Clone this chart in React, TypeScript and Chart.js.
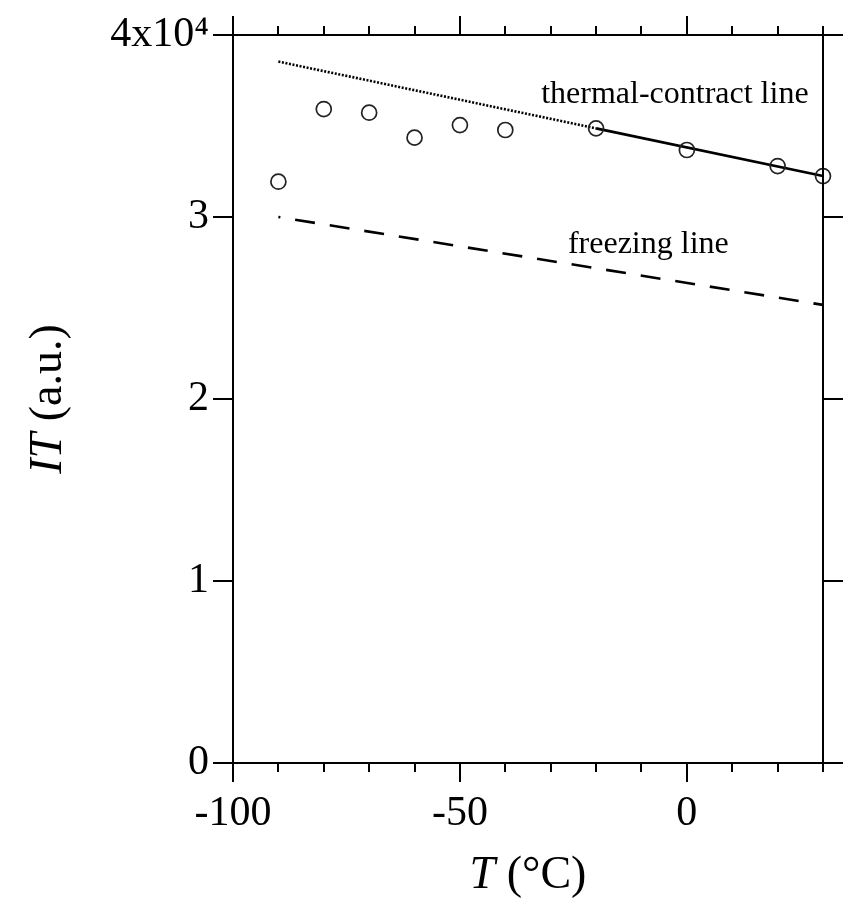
import React, { useEffect, useRef } from 'react';
import { Chart, registerables } from 'chart.js';

Chart.register(...registerables);

// ---- data ----
const temperatures = [-90, -80, -70, -60, -50, -40, -20, 0, 20, 30];
const itValues = [31940, 35930, 35730, 34360, 35050, 34780, 34870, 33680, 32800, 32250];

const thermalT = [-20, 30];
const thermalIT = [34870, 32250];

const extrapT = [-90, -20];
const extrapIT = [38540, 34870];

const freezeT = [-90, 30];
const freezeIT = [30000, 25170];

const xMajorTicks = [-100, -50, 0];
const yTickLabels = ['0', '1', '2', '3', '4x10\u2074'];

const SERIF = "'Liberation Serif', 'Times New Roman', serif";

const toPoints = (xs: number[], ys: number[]) => xs.map((x, i) => ({ x, y: ys[i] }));

const framePlugin = {
  id: 'frameTicks',
  afterDraw(chart: any) {
    const { ctx, chartArea, scales } = chart;
    const { left, right, top, bottom } = chartArea;
    const xs = scales.x;
    const ys = scales.y;
    ctx.save();
    ctx.strokeStyle = '#000';
    ctx.lineWidth = 2;
    ctx.lineCap = 'butt';
    ctx.beginPath();
    ctx.moveTo(left, top);
    ctx.lineTo(right, top);
    ctx.lineTo(right, bottom);
    ctx.stroke();

    ctx.beginPath();
    xs.ticks.forEach((t: any) => {
      const px = Math.round(xs.getPixelForValue(t.value));
      const len = xMajorTicks.includes(t.value) ? 19 : 9;
      ctx.moveTo(px, bottom);
      ctx.lineTo(px, bottom + len);
      ctx.moveTo(px, top);
      ctx.lineTo(px, top - len);
    });
    ys.ticks.forEach((t: any) => {
      const py = Math.round(ys.getPixelForValue(t.value));
      ctx.moveTo(left, py);
      ctx.lineTo(left - 20, py);
      ctx.moveTo(right, py);
      ctx.lineTo(right + 20, py);
    });
    ctx.stroke();

    // annotations
    ctx.fillStyle = '#000';
    ctx.font = `32px ${SERIF}`;
    ctx.textAlign = 'left';
    ctx.textBaseline = 'alphabetic';
    ctx.fillText('thermal-contract line', xs.getPixelForValue(-32.1), ys.getPixelForValue(36260));
    ctx.fillText('freezing line', xs.getPixelForValue(-26.2), ys.getPixelForValue(28020));

    // x title: T (°C)
    const cx = (left + right) / 2;
    const italic = `italic 46px ${SERIF}`;
    const upright = `46px ${SERIF}`;
    ctx.font = italic;
    const wT = ctx.measureText('T').width;
    ctx.font = upright;
    const wRest = ctx.measureText(' (\u00B0C)').width;
    const startX = cx - (wT + wRest) / 2;
    ctx.font = italic;
    ctx.fillText('T', startX, 888);
    ctx.font = upright;
    ctx.fillText(' (\u00B0C)', startX + wT, 888);

    // y title: IT (a.u.)
    const cy = (top + bottom) / 2;
    ctx.translate(61, cy);
    ctx.rotate(-Math.PI / 2);
    ctx.font = italic;
    const wIT = ctx.measureText('IT').width;
    ctx.font = upright;
    const wAU = ctx.measureText(' (a.u.)').width;
    const sx = -(wIT + wAU) / 2;
    ctx.font = italic;
    ctx.fillText('IT', sx, 0);
    ctx.font = upright;
    ctx.fillText(' (a.u.)', sx + wIT, 0);
    ctx.restore();
  },
};

export default function App() {
  const canvasRef = useRef<HTMLCanvasElement | null>(null);

  useEffect(() => {
    const canvas = canvasRef.current;
    if (!canvas) return;
    const chart = new Chart(canvas, {
      type: 'scatter',
      data: {
        datasets: [
          {
            label: 'data',
            data: toPoints(temperatures, itValues),
            showLine: false,
            pointStyle: 'circle',
            pointRadius: 7.5,
            pointBorderWidth: 1.7,
            pointBorderColor: '#222',
            pointBackgroundColor: 'rgba(0,0,0,0)',
            clip: false,
          } as any,
          {
            label: 'thermal-contract',
            data: toPoints(thermalT, thermalIT),
            showLine: true,
            borderColor: '#000',
            borderWidth: 2.6,
            pointRadius: 0,
            clip: false,
          } as any,
          {
            label: 'thermal-extrapolated',
            data: toPoints(extrapT, extrapIT),
            showLine: true,
            borderColor: '#000',
            borderWidth: 2.6,
            borderDash: [2, 1.6],
            pointRadius: 0,
            clip: false,
          } as any,
          {
            label: 'freezing',
            data: toPoints(freezeT, freezeIT),
            showLine: true,
            borderColor: '#000',
            borderWidth: 2.6,
            borderDash: [20, 15],
            borderDashOffset: 18,
            pointRadius: 0,
            clip: false,
          } as any,
        ],
      },
      options: {
        animation: false,
        responsive: false,
        devicePixelRatio: 1,
        layout: { padding: { left: 0, right: 26, top: 35, bottom: 0 } },
        plugins: { legend: { display: false }, tooltip: { enabled: false } },
        events: [],
        scales: {
          x: {
            type: 'linear',
            position: 'bottom',
            min: -100,
            max: 30,
            grid: { display: false, drawTicks: false },
            border: { display: true, color: '#000', width: 2 },
            ticks: {
              stepSize: 10,
              autoSkip: false,
              maxRotation: 0,
              padding: 26,
              color: '#000',
              font: { family: SERIF, size: 42 },
              callback: (v: any) => (xMajorTicks.includes(Number(v)) ? String(v) : ''),
            },
            afterFit: (scale: any) => {
              scale.height = 146;
              scale.paddingLeft = 0;
              scale.paddingRight = 0;
            },
          },
          y: {
            type: 'linear',
            position: 'left',
            min: 0,
            max: 40000,
            grid: { display: false, drawTicks: false },
            border: { display: true, color: '#000', width: 2 },
            ticks: {
              stepSize: 10000,
              padding: 24,
              color: '#000',
              font: { family: SERIF, size: 42, lineHeight: 0.8 },
              callback: (v: any) => yTickLabels[Math.round(Number(v) / 10000)] ?? '',
            },
            afterFit: (scale: any) => {
              scale.width = 233;
              scale.paddingTop = 0;
              scale.paddingBottom = 0;
            },
          },
        },
      },
      plugins: [framePlugin],
    });
    return () => chart.destroy();
  }, []);

  return (
    <div style={{ position: 'fixed', left: 0, top: 0, width: 849, height: 909, background: '#fff' }}>
      <canvas ref={canvasRef} width={849} height={909} style={{ width: 849, height: 909, display: 'block' }} />
    </div>
  );
}
